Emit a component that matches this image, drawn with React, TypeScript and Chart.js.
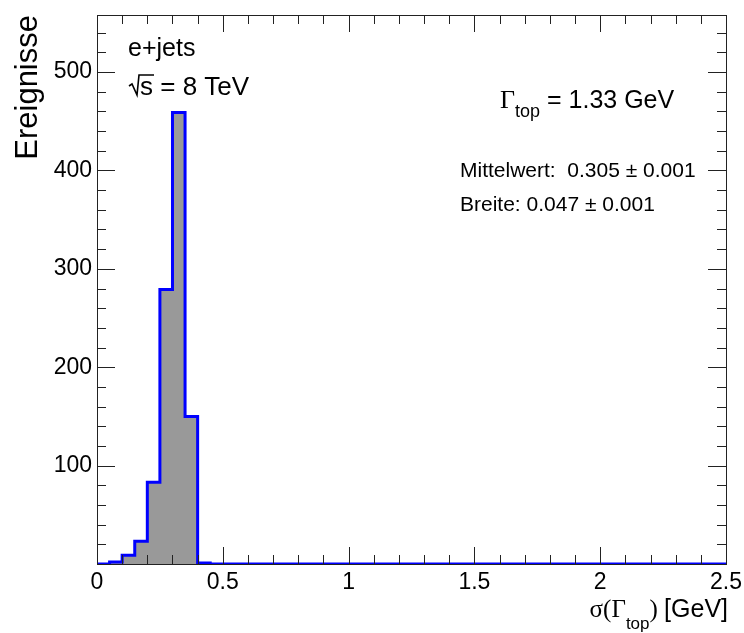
import React, { useEffect, useRef } from 'react';
import { Chart, registerables } from 'chart.js';

Chart.register(...registerables);

// ---- data ----
const binStart = 0;
const binWidth = 0.05;
const binCounts = [
  0, 2, 9, 23, 83, 279, 459, 150, 1, 0,
  0, 0, 0, 0, 0, 0, 0, 0, 0, 0,
  0, 0, 0, 0, 0, 0, 0, 0, 0, 0,
  0, 0, 0, 0, 0, 0, 0, 0, 0, 0,
  0, 0, 0, 0, 0, 0, 0, 0, 0, 0,
];
const xTickValues = [0, 0.5, 1, 1.5, 2, 2.5];
const yTickValues = [100, 200, 300, 400, 500];
const xMin = 0;
const xMax = 2.5;
const yMin = 0;
const yMax = 558;
const xMinorStep = 0.1;
const yMinorStep = 20;

const SANS = '"Liberation Sans", Arial, Helvetica, sans-serif';
const SERIF = '"Liberation Serif", "Times New Roman", serif';

type Part = { t: string; font: string; dy?: number };

function drawParts(ctx: CanvasRenderingContext2D, x: number, y: number, parts: Part[], align: 'left' | 'right' = 'left') {
  ctx.save();
  ctx.textAlign = 'left';
  ctx.textBaseline = 'alphabetic';
  let total = 0;
  for (const p of parts) {
    ctx.font = p.font;
    total += ctx.measureText(p.t).width;
  }
  let cx = align === 'right' ? x - total : x;
  for (const p of parts) {
    ctx.font = p.font;
    ctx.fillText(p.t, cx, y + (p.dy || 0));
    cx += ctx.measureText(p.t).width;
  }
  ctx.restore();
}

const rootFramePlugin = {
  id: 'rootFrame',
  afterDatasetsDraw(chart: any) {
    const { ctx, chartArea: a, scales } = chart;
    const xs = scales.x;
    const ys = scales.y;
    ctx.save();
    ctx.strokeStyle = '#222';
    ctx.lineWidth = 1;
    ctx.beginPath();
    const nx = Math.round((xMax - xMin) / xMinorStep);
    for (let i = 0; i <= nx; i++) {
      const v = xMin + i * xMinorStep;
      const isMajor = xTickValues.some((t) => Math.abs(t - v) < 1e-9);
      const len = isMajor ? 17 : 9;
      const px = Math.round(xs.getPixelForValue(v)) + 0.5;
      ctx.moveTo(px, a.bottom);
      ctx.lineTo(px, a.bottom - len);
      ctx.moveTo(px, a.top);
      ctx.lineTo(px, a.top + len);
    }
    const ny = Math.floor((yMax - yMin) / yMinorStep);
    for (let i = 0; i <= ny; i++) {
      const v = yMin + i * yMinorStep;
      const isMajor = v % 100 === 0;
      const len = isMajor ? 18 : 9;
      const py = Math.round(ys.getPixelForValue(v)) + 0.5;
      ctx.moveTo(a.left, py);
      ctx.lineTo(a.left + len, py);
      ctx.moveTo(a.right, py);
      ctx.lineTo(a.right - len, py);
    }
    ctx.stroke();
    ctx.strokeRect(Math.round(a.left) + 0.5, Math.round(a.top) + 0.5, Math.round(a.right - a.left), Math.round(a.bottom - a.top));
    ctx.restore();
  },
  afterDraw(chart: any) {
    const { ctx } = chart;
    ctx.save();
    ctx.fillStyle = '#000';
    // y title
    ctx.save();
    ctx.translate(37, 15);
    ctx.rotate(-Math.PI / 2);
    ctx.font = `31px ${SANS}`;
    ctx.textAlign = 'right';
    ctx.textBaseline = 'alphabetic';
    ctx.fillText('Ereignisse', 0, 0);
    ctx.restore();

    // x title
    drawParts(ctx, 728, 617, [
      { t: 'σ', font: `25px ${SERIF}` },
      { t: '(', font: `25px ${SERIF}` },
      { t: 'Γ', font: `25px ${SERIF}` },
      { t: 'top', font: `17px ${SANS}`, dy: 12 },
      { t: ') ', font: `25px ${SERIF}` },
      { t: '[GeV]', font: `25px ${SANS}` },
    ], 'right');

    // e+jets
    drawParts(ctx, 128, 56, [{ t: 'e+jets', font: `25px ${SANS}` }]);

    // sqrt(s) = 8 TeV
    ctx.save();
    ctx.font = `26px ${SANS}`;
    const rx = 129;
    const by = 95;
    ctx.strokeStyle = '#000';
    ctx.lineWidth = 1.6;
    ctx.beginPath();
    ctx.moveTo(rx, by - 9);
    ctx.lineTo(rx + 3, by - 11);
    ctx.lineTo(rx + 8, by);
    ctx.lineTo(rx + 10, by - 20);
    const sw = ctx.measureText('s').width;
    ctx.lineTo(rx + 12 + sw, by - 20);
    ctx.stroke();
    ctx.fillText('s', rx + 11, by);
    ctx.fillText(' = 8 TeV', rx + 11 + sw, by);
    ctx.restore();

    // Gamma_top = 1.33 GeV
    drawParts(ctx, 500, 108, [
      { t: 'Γ', font: `26px ${SERIF}` },
      { t: 'top', font: `18px ${SANS}`, dy: 9 },
      { t: ' = 1.33 GeV', font: `25px ${SANS}` },
    ]);

    drawParts(ctx, 460, 177, [{ t: 'Mittelwert:  0.305 ± 0.001', font: `21px ${SANS}` }]);
    drawParts(ctx, 460, 211, [{ t: 'Breite: 0.047 ± 0.001', font: `21px ${SANS}` }]);
    ctx.restore();
  },
};

export default function App() {
  const canvasRef = useRef<HTMLCanvasElement | null>(null);

  useEffect(() => {
    document.body.style.margin = '0';
    const canvas = canvasRef.current;
    if (!canvas) return;

    const points: { x: number; y: number }[] = binCounts.map((c, i) => ({ x: binStart + i * binWidth, y: c }));
    points.push({ x: binStart + binCounts.length * binWidth, y: binCounts[binCounts.length - 1] });

    const chart = new Chart(canvas, {
      type: 'line',
      data: {
        datasets: [
          {
            data: points,
            stepped: 'before',
            borderColor: '#0000ff',
            borderWidth: 3,
            backgroundColor: '#999999',
            fill: 'origin',
            pointRadius: 0,
            tension: 0,
          },
        ],
      },
      options: {
        animation: false,
        responsive: true,
        maintainAspectRatio: false,
        layout: { padding: { top: 15, right: 18, left: 0, bottom: 0 } },
        plugins: { legend: { display: false }, tooltip: { enabled: false } },
        scales: {
          x: {
            type: 'linear',
            min: xMin,
            max: xMax,
            grid: { display: false, drawTicks: false },
            border: { display: false },
            afterBuildTicks: (s: any) => {
              s.ticks = xTickValues.map((v) => ({ value: v }));
            },
            afterFit: (s: any) => {
              s.height = 69;
              s.paddingLeft = 0;
              s.paddingRight = 0;
            },
            ticks: {
              padding: 5,
              maxRotation: 0,
              autoSkip: false,
              color: '#000',
              font: { family: SANS, size: 23 },
              callback: (v: any) => String(v),
            },
          },
          y: {
            type: 'linear',
            min: yMin,
            max: yMax,
            grid: { display: false, drawTicks: false },
            border: { display: false },
            afterBuildTicks: (s: any) => {
              s.ticks = yTickValues.map((v) => ({ value: v }));
            },
            afterFit: (s: any) => {
              s.width = 97;
              s.paddingTop = 0;
              s.paddingBottom = 0;
            },
            ticks: {
              padding: 5,
              autoSkip: false,
              color: '#000',
              font: { family: SANS, size: 23 },
              callback: (v: any) => String(v),
            },
          },
        },
      },
      plugins: [rootFramePlugin],
    });
    return () => chart.destroy();
  }, []);

  return (
    <div style={{ width: 744, height: 633, position: 'relative', background: '#fff' }}>
      <canvas ref={canvasRef} />
    </div>
  );
}
